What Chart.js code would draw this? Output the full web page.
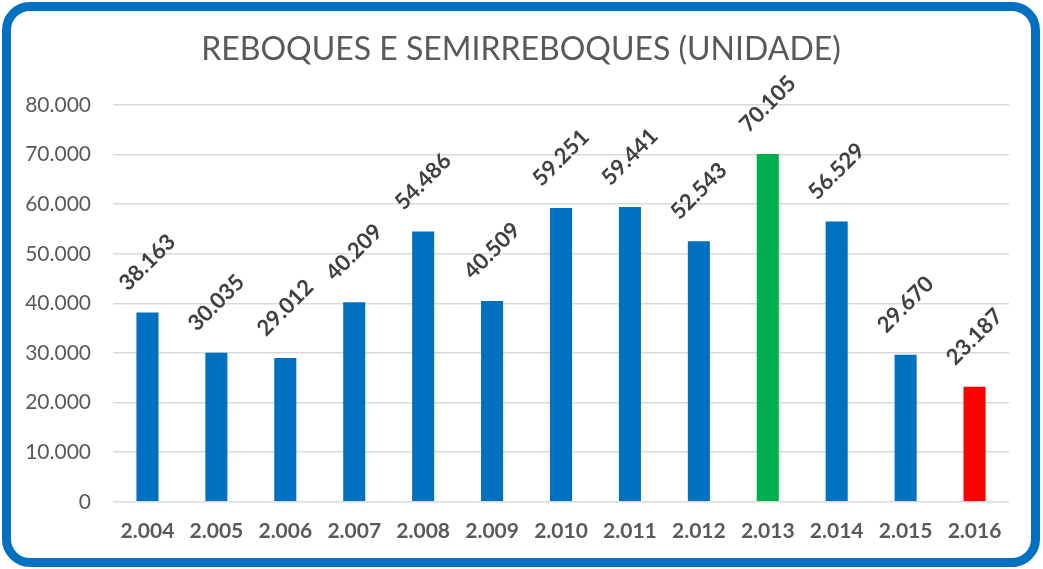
<!DOCTYPE html>
<html>
<head>
    <meta charset="UTF-8">
    <title>Reboques e Semirreboques</title>
    <script src="https://cdn.jsdelivr.net/npm/chart.js"></script>
    <style>
        body {
            margin: 0;
            background-color: #ffffff;
            font-family: Lato, Arial, sans-serif;
        }

        .frame {
            position: absolute;
            left: 2px;
            top: 2px;
            width: 1020px;
            height: 547px;
            border: 9px solid #0070C0;
            border-radius: 28px;
            background: #ffffff;
        }

        .chart-container {
            position: relative;
            width: 1020px;
            height: 547px;
        }
    </style>
</head>
<body>
    <div class="frame">
        <div class="chart-container">
            <canvas id="trailerChart"></canvas>
        </div>
    </div>

    <script>
        // Data
        var chartTitle = 'REBOQUES E SEMIRREBOQUES (UNIDADE)';
        var years = ['2.004', '2.005', '2.006', '2.007', '2.008', '2.009', '2.010',
                     '2.011', '2.012', '2.013', '2.014', '2.015', '2.016'];
        var units = [38163, 30035, 29012, 40209, 54486, 40509, 59251,
                     59441, 52543, 70105, 56529, 29670, 23187];
        var barColors = ['#0070C0', '#0070C0', '#0070C0', '#0070C0', '#0070C0', '#0070C0', '#0070C0',
                         '#0070C0', '#0070C0', '#00B050', '#0070C0', '#0070C0', '#FF0000'];
        var yTicks = [0, 10000, 20000, 30000, 40000, 50000, 60000, 70000, 80000];

        // Brazilian style thousands separator (dot)
        function fmt(v) {
            return v.toString().replace(/\B(?=(\d{3})+(?!\d))/g, '.');
        }

        // Title centred on the whole canvas (not on the padded area)
        var centredTitle = {
            id: 'centredTitle',
            afterDraw: function (chart) {
                var ctx = chart.ctx;
                ctx.save();
                ctx.font = '32px Lato';
                ctx.fillStyle = '#595959';
                ctx.textAlign = 'center';
                ctx.textBaseline = 'middle';
                ctx.fillText(chartTitle, chart.width / 2, 39);
                ctx.restore();
            }
        };

        // Rotated value labels above each bar
        var rotatedLabels = {
            id: 'rotatedLabels',
            afterDatasetsDraw: function (chart) {
                var ctx = chart.ctx;
                var meta = chart.getDatasetMeta(0);
                ctx.save();
                ctx.font = 'bold 22px Lato';
                ctx.fillStyle = '#404040';
                ctx.textAlign = 'center';
                ctx.textBaseline = 'middle';
                meta.data.forEach(function (bar, i) {
                    ctx.save();
                    ctx.translate(bar.x, bar.y - 50);
                    ctx.rotate(-Math.PI / 4);
                    ctx.fillText(fmt(units[i]), 0, 0);
                    ctx.restore();
                });
                ctx.restore();
            }
        };

        var ctx = document.getElementById('trailerChart').getContext('2d');
        var chart = new Chart(ctx, {
            type: 'bar',
            data: {
                labels: years,
                datasets: [{
                    data: units,
                    backgroundColor: barColors,
                    categoryPercentage: 1.0,
                    barPercentage: 0.32
                }]
            },
            options: {
                responsive: true,
                maintainAspectRatio: false,
                animation: false,
                layout: {
                    padding: { left: 0, right: 22, top: 94, bottom: 5 }
                },
                plugins: {
                    legend: { display: false },
                    tooltip: { enabled: false },
                    title: { display: false }
                },
                scales: {
                    x: {
                        grid: { display: false },
                        border: { display: false },
                        ticks: {
                            color: '#595959',
                            font: { family: 'Lato', size: 21, weight: 'bold' },
                            padding: 9,
                            maxRotation: 0
                        }
                    },
                    y: {
                        min: 0,
                        max: 80000,
                        afterBuildTicks: function (scale) {
                            scale.ticks = yTicks.map(function (v) { return { value: v }; });
                        },
                        afterFit: function (scale) {
                            scale.width = 102;
                        },
                        grid: {
                            color: '#D9D9D9',
                            lineWidth: 1.5,
                            drawTicks: false
                        },
                        border: { display: false },
                        ticks: {
                            color: '#595959',
                            font: { family: 'Lato', size: 21 },
                            padding: 22,
                            callback: function (v) { return fmt(v); }
                        }
                    }
                }
            },
            plugins: [rotatedLabels, centredTitle]
        });
    </script>
</body>
</html>
